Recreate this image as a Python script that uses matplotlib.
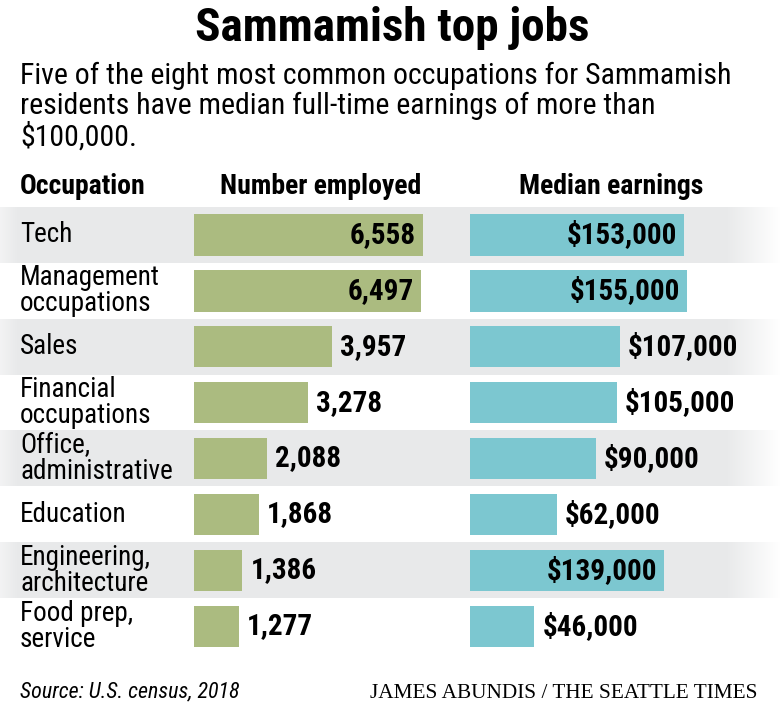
import matplotlib
matplotlib.use('Agg')
import matplotlib.pyplot as plt
from matplotlib import font_manager
import numpy as np

# data
occupations = ['Tech', 'Management\noccupations', 'Sales', 'Financial\noccupations',
               'Office,\nadministrative', 'Education', 'Engineering,\narchitecture',
               'Food prep,\nservice']
employed = [6558, 6497, 3957, 3278, 2088, 1868, 1386, 1277]
earnings = [153000, 155000, 107000, 105000, 90000, 62000, 139000, 46000]

green = '#abbb80'
teal = '#7cc7d0'
band = (0.91, 0.914, 0.918)

# pick a narrow sans if one is there
fl = font_manager.fontManager.ttflist
names = {f.name for f in fl}
stretch = 'normal'
fam = 'Roboto'
for cand in ['Roboto Condensed', 'Liberation Sans Narrow', 'Open Sans Condensed']:
    if cand in names:
        fam = cand
        break
else:
    if any(f.name == 'DejaVu Sans' and f.stretch == 'condensed' for f in fl):
        fam = 'DejaVu Sans'
        stretch = 'condensed'
narrow = [fam, 'DejaVu Sans']
scale = 1.0 if fam != 'Roboto' else 0.93

W, H = 780, 711
fig = plt.figure(figsize=(W / 100, H / 100), dpi=100)
fig.patch.set_facecolor('white')

bg = fig.add_axes([0, 0, 1, 1])
bg.set_xlim(0, W)
bg.set_ylim(H, 0)
bg.axis('off')

top = 207
step = 55.9
n = len(occupations)

# gray bands with faded edges
xs = np.arange(W)
alpha = np.clip(np.minimum(0.55 + xs / 40.0, (W - xs) / 55.0), 0, 1)
img = np.zeros((1, W, 4))
img[..., 0], img[..., 1], img[..., 2] = band
img[0, :, 3] = alpha
for i in range(0, n, 2):
    bg.imshow(img, extent=(0, W, top + (i + 1) * step, top + i * step),
              aspect='auto', interpolation='bilinear', zorder=0)

def txt(ax, x, y, s, size, **kw):
    kw.setdefault('family', narrow)
    return ax.text(x, y, s, fontsize=size * scale, fontstretch=stretch, **kw)

# titles
txt(bg, 392, 28, 'Sammamish top jobs', 34, ha='center', va='center', fontweight='bold')
sub = ('Five of the eight most common occupations for Sammamish\n'
       'residents have median full-time earnings of more than\n$100,000.')
txt(bg, 20, 107, sub, 21.5, ha='left', va='center', linespacing=1.09)

# headers
txt(bg, 20, 186, 'Occupation', 20, ha='left', va='center', fontweight='bold')
txt(bg, 321, 186, 'Number employed', 20, ha='center', va='center', fontweight='bold')
txt(bg, 611, 186, 'Median earnings', 20, ha='center', va='center', fontweight='bold')

for i, lab in enumerate(occupations):
    txt(bg, 20, top + (i + 0.5) * step, lab, 19.5, ha='left', va='center',
        linespacing=0.95)

# footer
txt(bg, 20, 692, 'Source: U.S. census, 2018', 15.8, ha='left', va='center',
    style='italic')
bg.text(757, 693, 'JAMES ABUNDIS / THE SEATTLE TIMES', ha='right', va='center',
        fontsize=15.3, family=['Liberation Serif', 'DejaVu Serif'])

# bar panels
def panel(x0, width_px, px_per_unit, values, color, fmt):
    ax = fig.add_axes([x0 / W, 1 - (top + n * step) / H, width_px / W, n * step / H])
    ax.set_xlim(0, width_px / px_per_unit)
    ax.set_ylim(n - 0.5, -0.5)
    ax.axis('off')
    ax.patch.set_alpha(0)
    y = np.arange(n)
    ax.barh(y, values, height=0.74, color=color)
    vmax = max(values)
    for yi, v in zip(y, values):
        if v / vmax > 0.8:
            txt(ax, v - 7 / px_per_unit, yi, fmt(v), 21, ha='right', va='center',
                fontweight='bold')
        else:
            txt(ax, v + 8 / px_per_unit, yi, fmt(v), 21, ha='left', va='center',
                fontweight='bold')
    return ax

panel(194, 250, 229 / 6558, employed, green, lambda v: f'{v:,}')
panel(470, 300, 214 / 153000, earnings, teal, lambda v: f'${v:,}')

fig.savefig('out.png', dpi=100)
